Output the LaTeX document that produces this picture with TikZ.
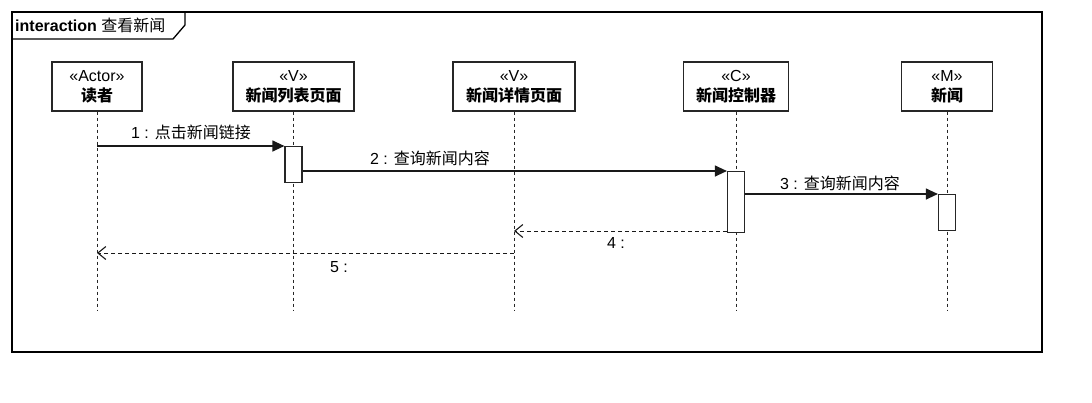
\documentclass[tikz,border=0pt]{standalone}
\usepackage{fontspec}
\setmainfont{Liberation Sans}
\newfontfamily\cjk{Noto Sans CJK SC}
\usetikzlibrary{arrows.meta,calc}
\tikzset{
  head/.style={draw=black!85,line width=1.2pt,fill=white,minimum height=49pt,inner sep=0pt,align=center,font=\fontsize{16}{20}\selectfont},
  lifeline/.style={draw=black!85,line width=1pt,dash pattern=on 3pt off 3pt},
  actbox/.style={draw=black!85,line width=1.2pt,fill=white,minimum width=17pt,inner sep=0pt},
  callmsg/.style={draw=black!90,line width=1.2pt,-{Triangle[length=12pt,width=11pt]}},
  retmsg/.style={draw=black!90,line width=1pt,dash pattern=on 4pt off 3pt,-{Straight Barb[length=8pt,width=13pt,line width=1.1pt]}},
  lbl/.style={font=\fontsize{16}{19}\selectfont,inner sep=0pt},
  frameline/.style={draw=black,line width=1.3pt}
}
\begin{document}
\begin{tikzpicture}[x=1pt,y=-1pt]
\useasboundingbox[fill=white] (0,0) rectangle (1092,402);
% frame
\draw[frameline] (12,12) rectangle (1042,352);
\draw[frameline] (12,39) -- (173,39) -- (185,25) -- (185,12);
\node[anchor=west,inner sep=0pt,font=\fontsize{16}{19}\selectfont] (title) at (15,25) {\textbf{interaction} {\cjk 查看新闻}};
% heads
\node[head,minimum width=90pt] (h1) at (97,86.5) {«Actor»\\{\cjk\bfseries 读者}};
\node[head,minimum width=121pt] (h2) at (293.5,86.5) {«V»\\{\cjk\bfseries 新闻列表页面}};
\node[head,minimum width=122pt] (h3) at (514,86.5) {«V»\\{\cjk\bfseries 新闻详情页面}};
\node[head,minimum width=105pt] (h4) at (736,86.5) {«C»\\{\cjk\bfseries 新闻控制器}};
\node[head,minimum width=91pt] (h5) at (947,86.5) {«M»\\{\cjk\bfseries 新闻}};
% lifeline ends
\coordinate (bot) at (0,311);
\foreach \h in {h1,h2,h3,h4,h5}{
  \draw[lifeline] (\h.south) -- (\h.south |- bot);
}
% activations
\node[actbox,minimum height=36pt,anchor=north] (a2) at (293.5,146) {};
\node[actbox,minimum height=61pt,anchor=north] (a4) at (736,171) {};
\node[actbox,minimum height=36pt,anchor=north] (a5) at (947,194) {};
% messages
\draw[callmsg] (h1 |- a2.north) -- (a2.north west);
\node[lbl] (l1) at (191,132) {1 : {\cjk 点击新闻链接}};
\draw[callmsg] (a2.east |- a4.north) -- (a4.north west);
\node[lbl] (l2) at (430,158) {2 : {\cjk 查询新闻内容}};
\draw[callmsg] (a4.east |- a5.north) -- (a5.north west);
\node[lbl] (l3) at (840,183) {3 : {\cjk 查询新闻内容}};
\coordinate (y4) at (0,231);
\coordinate (y5) at (0,253);
\draw[retmsg] (a4.west |- y4) -- (h3 |- y4);
\node[lbl] (l4) at (616,243) {4 :};
\draw[retmsg] (h3 |- y5) -- (h1 |- y5);
\node[lbl] (l5) at (339,267) {5 :};
\end{tikzpicture}
\end{document}
